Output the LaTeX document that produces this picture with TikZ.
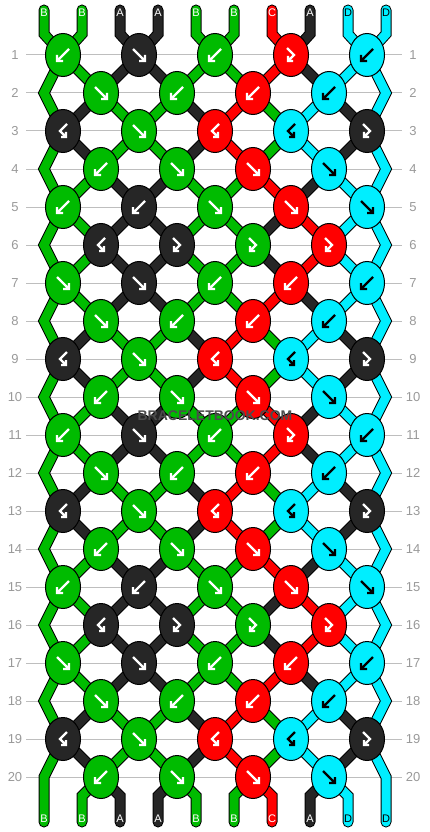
\documentclass[tikz,border=0pt]{standalone}
\usepackage{fontspec}
\setmainfont{Liberation Sans}
\usetikzlibrary{shapes.geometric,backgrounds}

\definecolor{clrA}{HTML}{262626}
\definecolor{clrB}{HTML}{00BB00}
\definecolor{clrC}{HTML}{FF0000}
\definecolor{clrD}{HTML}{00EEFF}
\colorlet{arrA}{white}
\colorlet{arrB}{white}
\colorlet{arrC}{white}
\colorlet{arrD}{black}
\definecolor{rulegray}{HTML}{BEBEBE}
\definecolor{numgray}{HTML}{999999}

% thread order after a row
\def\stateA{B,B,A,A,B,B,C,A,D,D}
\def\stateB{B,A,B,B,A,C,B,D,A,D}
\def\stateC{B,B,A,A,B,B,A,C,D,D}

\tikzset{
  knot/.style={ellipse, draw=black, line width=1pt, minimum width=35pt, minimum height=43pt, inner sep=0pt},
  glyph/.style={line width=2.4pt, line join=miter},
  strandout/.style={draw=black, line width=11pt, line cap=round, line join=miter},
  strandin/.style={draw=#1, line width=9pt, line cap=round, line join=miter},
  endlabel/.style={font=\fontsize{11}{11}\selectfont, inner sep=0pt},
  rownum/.style={font=\fontsize{13}{13}\selectfont, text=numgray, inner sep=0pt}
}

\newcommand\glyphfw[2]{\draw[glyph,#2,shift={(#1.center)}] (-6,-6) -- (6,6) (6,0) -- (6,6) -- (0,6);}
\newcommand\glyphbw[2]{\draw[glyph,#2,shift={(#1.center)}] (6,-6) -- (-6,6) (-6,0) -- (-6,6) -- (0,6);}
\newcommand\glyphfb[2]{\draw[glyph,#2,shift={(#1.center)}] (-4,-7) -- (3,0) -- (-3,6) (-3,1) -- (-3,6) -- (2,6);}
\newcommand\glyphbf[2]{\draw[glyph,#2,shift={(#1.center)}] (4,-7) -- (-3,0) -- (3,6) (3,1) -- (3,6) -- (-2,6);}

\newcommand\drawstrands[1]{%
  \foreach \c [count=\p from 0] in \stateA {
    \pgfmathtruncatemacro\k{floor(\p/2)}
    \draw[#1=clr\c] (top-\p) -- (tb-\p) -- (k-1-\k.center);
  }
  \foreach \r/\s in {1/A,2/B,3/B,4/A,5/C,6/C,7/A,8/B,9/B,10/A,
                     11/A,12/B,13/B,14/A,15/C,16/C,17/A,18/B,19/B} {
    \pgfmathtruncatemacro\rn{\r+1}
    \edef\cur{\csname state\s\endcsname}
    \foreach \c [count=\p from 0] in \cur {
      \ifnum\p>0 \ifnum\p<9
        \pgfmathtruncatemacro\ka{isodd(\r) ? floor(\p/2) : floor((\p-1)/2)}
        \pgfmathtruncatemacro\kb{isodd(\r) ? floor((\p-1)/2) : floor(\p/2)}
        \draw[#1=clr\c] (k-\r-\ka.center) -- (k-\rn-\kb.center);
      \fi\fi
    }
  }
  \foreach \r in {2,4,...,18} {
    \pgfmathtruncatemacro\ra{\r-1}
    \pgfmathtruncatemacro\rb{\r+1}
    \draw[#1=clrB] (k-\ra-0.center) -- (eL-\r) -- (k-\rb-0.center);
    \draw[#1=clrD] (k-\ra-4.center) -- (eR-\r) -- (k-\rb-4.center);
  }
  \draw[#1=clrB] (k-19-0.center) -- (eL-20) -- (bot-0);
  \draw[#1=clrD] (k-19-4.center) -- (eR-20) -- (bot-9);
  \foreach \c [count=\p from 0] in \stateA {
    \ifnum\p>0 \ifnum\p<9
      \pgfmathtruncatemacro\k{floor((\p-1)/2)}
      \draw[#1=clr\c] (k-20-\k.center) -- (bb-\p) -- (bot-\p);
    \fi\fi
  }
}

\begin{document}
\begin{tikzpicture}[x=1pt, y=-1pt]
  \useasboundingbox (0,0) rectangle (430,832);

  % knots
  \foreach \h in {0,10} {
    \foreach \m/\kn in {
        1/{bw/B,fw/A,bw/B,fb/C,bw/D},
        2/{fw/B,bw/B,bw/C,bw/D},
        3/{bf/A,fw/B,bf/C,bf/D,fb/A},
        4/{bw/B,fw/B,fw/C,fw/D},
        5/{bw/B,bw/A,fw/B,fw/C,fw/D},
        6/{bf/A,fb/A,fb/B,fb/C},
        7/{fw/B,fw/A,bw/B,bw/C,bw/D},
        8/{fw/B,bw/B,bw/C,bw/D},
        9/{bf/A,fw/B,bf/C,bf/D,fb/A},
        10/{bw/B,fw/B,fw/C,fw/D}} {
      \pgfmathtruncatemacro\r{\m+\h}
      \pgfmathsetmacro\y{55+38*(\r-1)}
      \pgfmathsetmacro\xo{isodd(\r) ? 63 : 101}
      \foreach \t/\c [count=\k from 0] in \kn {
        \node[knot, fill=clr\c] (k-\r-\k) at (\xo+76*\k, \y) {};
        \csname glyph\t\endcsname{k-\r-\k}{arr\c}
      }
    }
  }

  % thread ends and edge turns
  \foreach \p in {0,...,9} {
    \coordinate (top-\p) at (44+38*\p, 10);
    \coordinate (tb-\p) at (44+38*\p, 34);
    \coordinate (bb-\p) at (44+38*\p, 796);
    \coordinate (bot-\p) at (44+38*\p, 822);
  }
  \foreach \r in {2,4,...,20} {
    \coordinate (eL-\r) at (44, 55+38*\r-38);
    \coordinate (eR-\r) at (386, 55+38*\r-38);
  }

  \foreach \c [count=\p from 0] in \stateA {
    \node[endlabel, text=arr\c] (lt-\p) at (44+38*\p, 13) {\c};
    \node[endlabel, text=arr\c] (lb-\p) at (44+38*\p, 819) {\c};
  }

  \foreach \r in {1,...,20} {
    \node[rownum] (nl-\r) at (15, 55+38*\r-38) {\r};
    \node[rownum] (nr-\r) at (413, 55+38*\r-38) {\r};
  }

  \node[font=\bfseries\fontsize{14}{14}\selectfont, text=black!70, inner sep=0pt] (mark) at (215,416) {BRACELETBOOK.COM};

  \begin{pgfonlayer}{background}
    \foreach \r in {1,...,20}
      \draw[rulegray, line width=1pt] (26, 55+38*\r-38) -- (402, 55+38*\r-38);
    \drawstrands{strandout}
    \drawstrands{strandin}
  \end{pgfonlayer}
\end{tikzpicture}
\end{document}
